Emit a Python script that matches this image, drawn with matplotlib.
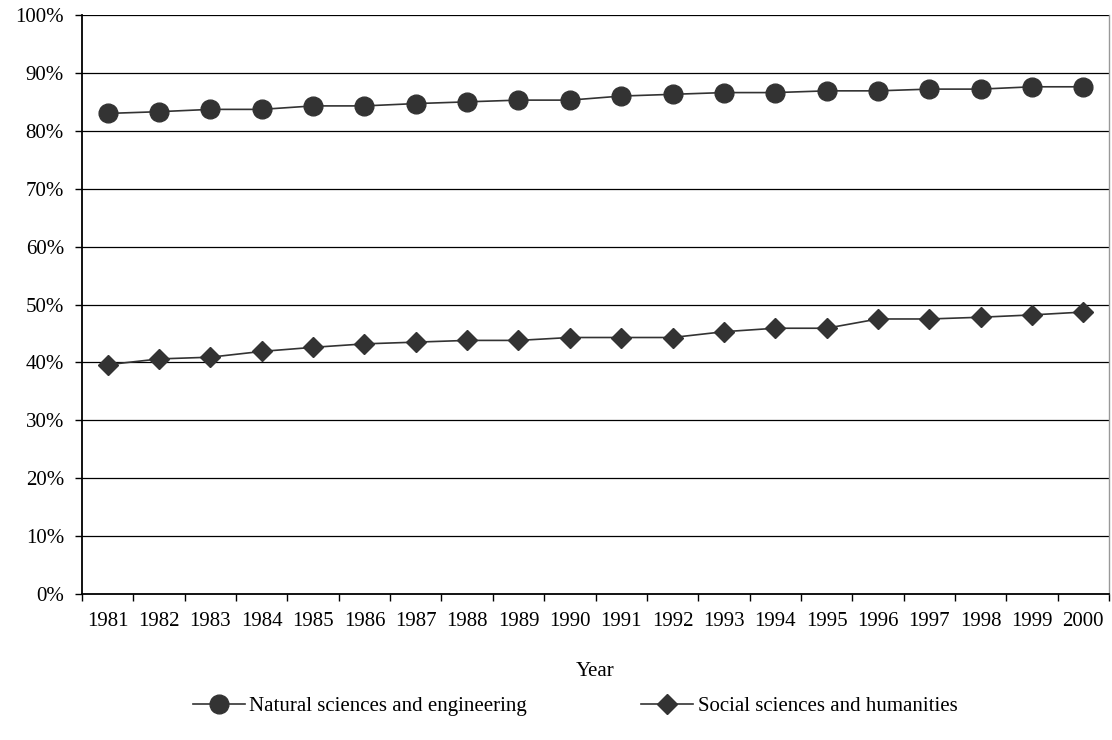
import matplotlib
matplotlib.use("Agg")
import matplotlib.pyplot as plt
import numpy as np

years = [str(y) for y in range(1981, 2001)]
natural = [83.0, 83.3, 83.7, 83.7, 84.3, 84.3, 84.7, 85.0, 85.3, 85.3,
           86.0, 86.3, 86.6, 86.6, 86.9, 86.9, 87.2, 87.2, 87.6, 87.6]
social = [39.6, 40.6, 40.9, 41.9, 42.6, 43.2, 43.5, 43.8, 43.8, 44.3,
          44.3, 44.3, 45.3, 45.9, 45.9, 47.5, 47.5, 47.8, 48.2, 48.7]
yticks = list(range(0, 101, 10))
ytick_labels = [f"{v}%" for v in yticks]
series_names = ["Natural sciences and engineering", "Social sciences and humanities"]

plt.rcParams['font.family'] = ['Liberation Serif', 'DejaVu Serif']
FS = 15

fig = plt.figure(figsize=(11.12, 7.40), dpi=100)
ax = fig.add_axes([82/1112, 1 - 594/740, (1109-82)/1112, (594-15)/740])

x = np.arange(len(years))
col = '#333333'
ax.plot(x, natural, color=col, lw=1.2, marker='o', markersize=13.5,
        label=series_names[0], zorder=3)
ax.plot(x, social, color=col, lw=1.2, marker='D', markersize=10.5,
        label=series_names[1], zorder=3)

ax.set_xlim(-0.5, len(years) - 0.5)
ax.set_ylim(0, 100)
ax.set_yticks(yticks)
ax.set_yticklabels(ytick_labels, fontsize=FS)
for v in yticks[1:]:
    ax.axhline(v, color='black', lw=0.9, zorder=1)

ax.set_xticks(x)
ax.set_xticklabels(years, fontsize=FS)
ax.set_xticks(np.arange(-0.5, len(years)), minor=True)
ax.tick_params(axis='x', which='major', length=0, pad=13)
ax.tick_params(axis='x', which='minor', length=5, width=1, direction='out')
ax.tick_params(axis='y', length=5, width=1, direction='out', pad=8)

for s in ['left', 'bottom']:
    ax.spines[s].set_color('black')
    ax.spines[s].set_linewidth(1.3)
ax.spines['top'].set_visible(False)
ax.spines['right'].set_color('#999999')
ax.spines['right'].set_linewidth(1)

ax.set_xlabel("Year", fontsize=FS, labelpad=22)

leg = fig.legend(loc='center', bbox_to_anchor=(575/1112, 1 - 706/740), ncol=2,
                 frameon=False, fontsize=FS, handlelength=2.5,
                 handletextpad=0.2, columnspacing=5.5, borderpad=0,
                 borderaxespad=0)

fig.savefig("out.png", dpi=100, facecolor='white')
